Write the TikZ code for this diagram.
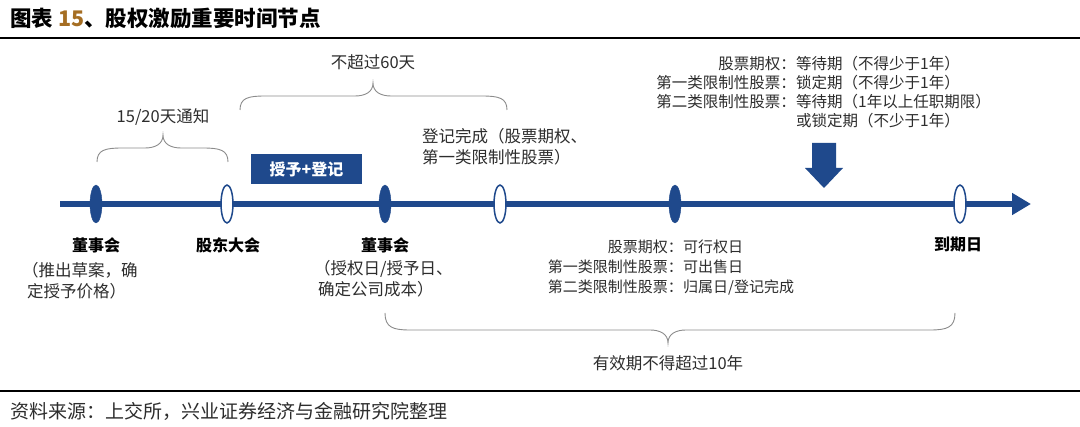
\documentclass[tikz,border=0pt]{standalone}
\usepackage{fontspec}
\setmainfont{Noto Sans CJK SC}
\usetikzlibrary{shapes.geometric,arrows.meta}
\definecolor{navy}{RGB}{31,73,140}
\definecolor{txt}{RGB}{45,45,45}
\definecolor{brcol}{RGB}{140,140,140}
\definecolor{gold}{RGB}{165,110,35}
\newcommand{\hbrace}[6]{%
 \draw[bracestyle] (#1,#3) .. controls (#1,{#4+0.15*(#3-#4)}) and ({#1+8},#4) .. ({#1+25},#4) -- ({#6-18},#4) .. controls ({#6-8},#4) and (#6,{#4-0.3*(#4-#5)}) .. (#6,#5) .. controls (#6,{#4-0.3*(#4-#5)}) and ({#6+8},#4) .. ({#6+18},#4) -- ({#2-25},#4) .. controls ({#2-8},#4) and (#2,{#4+0.15*(#3-#4)}) .. (#2,#3);}
\begin{document}
\begin{tikzpicture}[x=1pt,y=-1pt,
  lbl/.style={font=\fontsize{16.5}{20}\selectfont, text=txt, inner sep=0pt},
  blbl/.style={font=\fontsize{16}{20}\selectfont\bfseries, text=black, inner sep=0pt},
  note/.style={font=\fontsize{15}{18}\selectfont, text=txt, inner sep=0pt},
  topnote/.style={font=\fontsize{15.5}{18}\selectfont, text=txt, inner sep=0pt},
  fillmark/.style={ellipse, minimum width=12pt, minimum height=38pt, inner sep=0pt, fill=navy, draw=navy},
  hollowmark/.style={ellipse, minimum width=12pt, minimum height=38pt, inner sep=0pt, fill=white, draw=navy, line width=1.5pt},
  bracestyle/.style={draw=brcol, line width=0.9pt},
  rulestyle/.style={draw=black, line width=2.2pt}]
\useasboundingbox (0,0) rectangle (1080,427);
\fill[white] (0,0) rectangle (1080,427);

% title and rules
\node[anchor=west, inner sep=0pt, font=\fontsize{21.5}{25}\selectfont\bfseries] (title) at (10,18) {图表 {\color{gold}15}、股权激励重要时间节点};
\coordinate (r1a) at (0,38); \coordinate (r1b) at (1080,38);
\draw[rulestyle] (r1a) -- (r1b);
\coordinate (r2a) at (0,391); \coordinate (r2b) at (1080,391);
\draw[rulestyle] (r2a) -- (r2b);
\node[anchor=west, inner sep=0pt, font=\fontsize{19}{23}\selectfont, text=txt] (src) at (10,411) {资料来源：上交所，兴业证券经济与金融研究院整理};

% timeline
\coordinate (tl0) at (60,204); \coordinate (tl1) at (1031,204);
\draw[navy, line width=6pt, -{Triangle[length=19pt,width=21pt]}] (tl0) -- (tl1);
\node[fillmark] (m1) at (96,204) {};
\node[hollowmark] (m2) at (227,204) {};
\node[fillmark] (m3) at (385,204) {};
\node[hollowmark] (m4) at (500,204) {};
\node[fillmark] (m5) at (675,204) {};
\node[hollowmark] (m6) at (960,204) {};

% labels below
\node[blbl] (l1) at (96,245) {董事会};
\node[lbl, anchor=west] (l1a) at (22,270) {（推出草案，确};
\node[lbl, anchor=west] (l1b) at (27,291) {定授予价格）};
\node[blbl] (l2) at (228,245) {股东大会};
\node[blbl] (l3) at (385,245) {董事会};
\node[lbl, anchor=west] (l3a) at (314,269) {（授权日/授予日、};
\node[lbl, anchor=west] (l3b) at (318,289) {确定公司成本）};
\node[blbl] (l6) at (958,245) {到期日};

\node[note, anchor=east] (n1k) at (683,247) {股票期权：};
\node[note, anchor=west] (n1v) at (683,247) {可行权日};
\node[note, anchor=east] (n2k) at (683,267) {第一类限制性股票：};
\node[note, anchor=west] (n2v) at (683,267) {可出售日};
\node[note, anchor=east] (n3k) at (683,287) {第二类限制性股票：};
\node[note, anchor=west] (n3v) at (683,287) {归属日/登记完成};

% above the line
\hbrace{97}{228}{162}{148}{135}{163}
\node[lbl] (d1) at (163,117) {15/20天通知};
\hbrace{240}{507}{110}{96}{83}{373}
\node[lbl] (d2) at (373,62) {不超过60天};
\node[fill=navy, minimum width=111pt, minimum height=30pt, inner sep=0pt, text=white, font=\fontsize{16}{20}\selectfont\bfseries] (grant) at (306.5,169) {授予+登记};
\node[lbl, anchor=west] (reg1) at (422,136) {登记完成（股票期权、};
\node[lbl, anchor=west] (reg2) at (422,157) {第一类限制性股票）};

\node[topnote, anchor=east] (t1k) at (796,64) {股票期权：};
\node[topnote, anchor=west] (t1v) at (796,64) {等待期（不得少于1年）};
\node[topnote, anchor=east] (t2k) at (796,83) {第一类限制性股票：};
\node[topnote, anchor=west] (t2v) at (796,83) {锁定期（不得少于1年）};
\node[topnote, anchor=east] (t3k) at (796,102) {第二类限制性股票：};
\node[topnote, anchor=west] (t3v) at (796,102) {等待期（1年以上任职期限）};
\node[topnote, anchor=west] (t4v) at (796,121) {或锁定期（不少于1年）};

\fill[navy] (812,143) -- (836,143) -- (836,168) -- (843,168) -- (824,188) -- (805,168) -- (812,168) -- cycle;

% below brace
\hbrace{385}{955}{313}{330}{343}{668}
\node[lbl] (valid) at (668,363) {有效期不得超过10年};
\end{tikzpicture}
\end{document}
